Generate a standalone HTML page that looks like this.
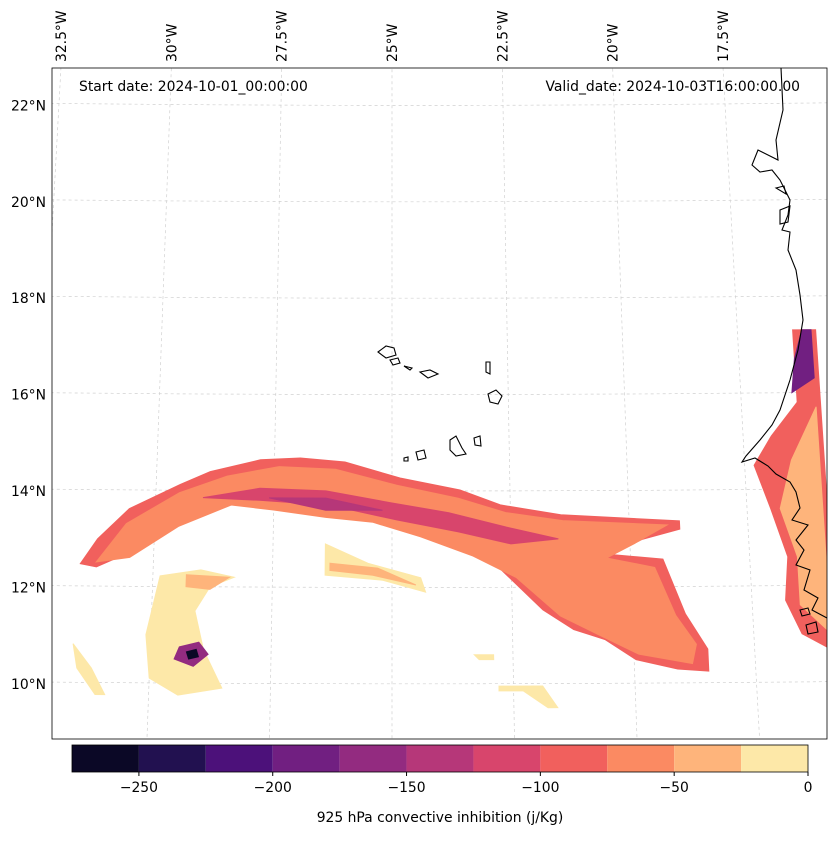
<!DOCTYPE html>
<html><head><meta charset="utf-8"><style>
html,body{margin:0;padding:0;background:#fff;}
svg text{font-family:"DejaVu Sans","Liberation Sans",sans-serif;fill:#000;}
</style></head><body>
<svg id="chart" width="837" height="836" viewBox="0 0 837 836" xmlns="http://www.w3.org/2000/svg">
<rect x="0" y="0" width="837" height="836" fill="#fff"/>
<defs><clipPath id="mapclip"><rect x="52" y="68" width="775" height="671"/></clipPath></defs>
<g id="grid" clip-path="url(#mapclip)"></g>
<g id="fields" clip-path="url(#mapclip)"></g>
<g id="coast" clip-path="url(#mapclip)" fill="none" stroke="#000" stroke-width="1.1">
  <path d="M781,68 L783,110 L776,140 L778,160 L768,155 L758,150 L752,165 L760,172 L772,170 L780,180 L790,200 L788,215 L782,230 L790,232 L788,250 L796,270 L800,295 L803,320 L798,350 L790,380 L780,410 L772,425 L760,440 L746,456 L742,462 L755,458 L768,466 L776,474 L790,482 L796,492 L800,508 L792,520 L808,525 L796,540 L804,550 L796,565 L810,570 L804,590 L818,598 L812,610 L827,618"/>
  <path d="M378,352 L386,346 L394,348 L396,355 L386,358 Z"/>
  <path d="M390,360 L398,358 L400,363 L393,365 Z"/>
  <path d="M404,366 L412,368 L410,370 Z"/>
  <path d="M486,362 L490,362 L490,374 L486,372 Z"/>
  <path d="M488,394 L496,390 L502,396 L498,404 L490,402 Z"/>
  <path d="M474,438 L480,436 L481,446 L475,445 Z"/>
  <path d="M450,440 L456,436 L462,448 L466,454 L456,456 L450,450 Z"/>
  <path d="M416,452 L424,450 L426,458 L418,460 Z"/>
  <path d="M404,458 L408,457 L408,461 L404,461 Z"/>
  <path d="M420,372 L430,370 L438,374 L428,378 Z"/>
  <path d="M800,610 L808,608 L810,614 L802,616 Z M806,625 L816,622 L818,632 L808,634 Z"/>
  <path d="M776,188 L784,186 L786,194 Z M780,210 L790,206 L788,222 L780,224 Z"/>
</g>
<rect x="52" y="68" width="775" height="671" fill="none" stroke="#000" stroke-width="0.8"/>
<g id="labels"></g>
<text x="79" y="91" font-size="13.9">Start date: 2024-10-01_00:00:00</text>
<text x="800" y="91" font-size="13.9" text-anchor="end">Valid_date: 2024-10-03T16:00:00.00</text>
<g id="cbar"></g>
<text x="440" y="822" font-size="13.9" text-anchor="middle">925 hPa convective inhibition (j/Kg)</text>
</svg>
<script>
// ---- data ----
const levels = [-275,-250,-225,-200,-175,-150,-125,-100,-75,-50,-25,0];
const colors = ["#0b0826","#221150","#4c117a","#711f81","#932b80","#b63779","#d8456c","#f1605d","#fb8a62","#feb47b","#fde8a8"];
const cbarTicks = [-250,-200,-150,-100,-50,0];
const latTicks = [10,12,14,16,18,20,22];
const lonTicks = [-32.5,-30,-27.5,-25,-22.5,-20,-17.5];
const bandOuter = [[-31.53,12.46],[-31.19,12.98],[-30.55,13.61],[-29.49,14.12],[-28.86,14.39],[-27.8,14.64],[-26.95,14.68],[-26.0,14.6],[-24.83,14.27],[-23.56,14.02],[-22.71,13.71],[-21.44,13.5],[-18.94,13.36],[-18.94,13.19],[-19.75,12.98],[-20.38,12.67],[-19.32,12.57],[-18.9,11.43],[-18.47,10.7],[-18.47,10.24],[-19.11,10.29],[-19.96,10.49],[-20.59,10.91],[-21.23,11.12],[-21.86,11.53],[-22.71,12.36],[-23.35,12.78],[-24.41,13.19],[-25.25,13.5],[-26.31,13.56],[-27.37,13.71],[-28.22,13.81],[-29.49,13.4],[-30.34,12.78],[-31.19,12.4]];
const bandMid = [[-31.2,12.5],[-30.6,13.3],[-29.5,13.95],[-28.5,14.3],[-27.4,14.5],[-26.2,14.45],[-24.9,14.12],[-23.6,13.85],[-22.6,13.55],[-21.4,13.38],[-19.2,13.28],[-19.9,12.9],[-20.5,12.6],[-19.5,12.4],[-19.1,11.4],[-18.7,10.8],[-18.8,10.4],[-19.9,10.6],[-20.7,11.0],[-21.5,11.4],[-22.4,12.2],[-23.3,12.65],[-24.4,13.05],[-25.4,13.35],[-26.4,13.45],[-27.5,13.6],[-28.4,13.7],[-29.5,13.25],[-30.5,12.6]];
const bandInner = [[-29.0,13.85],[-27.8,14.05],[-26.4,14.0],[-25.0,13.75],[-23.8,13.55],[-22.6,13.25],[-21.5,13.0],[-22.5,12.9],[-23.6,13.15],[-24.9,13.4],[-26.3,13.7],[-27.8,13.8]];
const bandCore = [[-27.6,13.85],[-26.4,13.85],[-25.2,13.6],[-26.4,13.6]];
const blobWest = [[-29.85,12.22],[-29.0,12.35],[-28.3,12.2],[-28.8,12.0],[-29.1,11.5],[-28.9,10.7],[-28.5,9.9],[-29.4,9.75],[-30.0,10.1],[-30.1,11.0]];
const blobWestPeach = [[-29.3,12.25],[-28.4,12.2],[-28.8,11.95],[-29.3,12.0]];
const spotRing = [[-29.4,10.75],[-29.0,10.85],[-28.8,10.6],[-29.1,10.35],[-29.5,10.5]];
const spotCore = [[-29.25,10.65],[-29.05,10.7],[-29.0,10.55],[-29.2,10.5]];
const blobMid = [[-26.4,12.9],[-25.5,12.5],[-24.4,12.2],[-24.3,11.9],[-25.2,12.15],[-26.4,12.25]];
const blobMidPeach = [[-26.3,12.5],[-25.3,12.4],[-24.5,12.05],[-25.4,12.25],[-26.3,12.35]];
const blobSW = [[-31.6,10.8],[-31.2,10.3],[-30.9,9.75],[-31.1,9.75],[-31.5,10.3]];
const blobS1 = [[-22.8,9.95],[-21.9,9.95],[-21.6,9.5],[-21.8,9.5],[-22.3,9.85],[-22.8,9.85]];
const blobS2 = [[-23.3,10.6],[-22.9,10.6],[-22.9,10.5],[-23.2,10.5]];
const blobEdge = [[-32.6,14.0],[-32.5,13.2],[-32.6,13.2]];
const coastStrip = [[-16.3,17.3],[-15.8,17.3],[-15.8,10.6],[-16.5,11.0],[-16.8,11.7],[-16.7,12.6],[-17.0,13.6],[-17.3,14.5],[-16.9,15.1],[-16.3,15.8]];
const coastPeach = [[-15.9,15.7],[-15.9,11.0],[-16.5,11.6],[-16.5,12.6],[-16.8,13.6],[-16.5,14.6]];
const coastPurple = [[-16.1,17.3],[-15.9,17.3],[-15.9,16.3],[-16.4,16.0],[-16.3,16.7]];
const regions = [
 {bin:7, poly:bandOuter},{bin:8, poly:bandMid},{bin:6, poly:bandInner},{bin:5, poly:bandCore},
 {bin:10, poly:blobWest},{bin:9, poly:blobWestPeach},{bin:4, poly:spotRing},{bin:0, poly:spotCore},
 {bin:10, poly:blobMid},{bin:9, poly:blobMidPeach},{bin:10, poly:blobSW},{bin:10, poly:blobS1},
 {bin:10, poly:blobS2},{bin:10, poly:blobEdge},{bin:7, poly:coastStrip},{bin:9, poly:coastPeach},{bin:3, poly:coastPurple}
];
// ---- axes ----
const NS="http://www.w3.org/2000/svg";
function xOf(lon,lat){return 392+(lon+25)*(47.2-(lat-14)*0.35);}
function yOf(lon,lat){return 491-(lat-14)*48.2-Math.pow((lon+24.5),2)*0.03;}
function cbX(v){return 808+(v)*(736/275);}
function mk(tag,attrs,parent){const e=document.createElementNS(NS,tag);for(const k in attrs)e.setAttribute(k,attrs[k]);parent.appendChild(e);return e;}
const grid=document.getElementById('grid'),fields=document.getElementById('fields'),labels=document.getElementById('labels'),cbar=document.getElementById('cbar');
latTicks.forEach(lat=>{
  let d="";for(let lon=-33.5;lon<=-15;lon+=0.5){d+=(d?"L":"M")+xOf(lon,lat).toFixed(1)+","+yOf(lon,lat).toFixed(1);}
  const p=mk('path',{d:d,fill:'none',stroke:'#d0d0d0','stroke-width':0.7,'stroke-dasharray':'3,3'},grid);
  
  
  const t=mk('text',{x:46,y:491-(lat-14)*48.2+5,'font-size':13.9,'text-anchor':'end'},labels);
  t.textContent=lat+"°N";
  
  
});
lonTicks.forEach(lon=>{
  const x1=xOf(lon,23),y1=yOf(lon,23),x2=xOf(lon,8.5),y2=yOf(lon,8.5);
  const p=mk('line',{x1:x1,y1:y1,x2:x2,y2:y2,stroke:'#d0d0d0','stroke-width':0.7,'stroke-dasharray':'3,3'},grid);
  
  
  const tx=xOf(lon,22.8)+5;
  const t=mk('text',{x:tx,y:62,'font-size':13.9,transform:`rotate(-90 ${tx} 62)`},labels);
  t.textContent=Math.abs(lon)+"°W";
  
  
});
regions.forEach((r,i)=>{
  const pts=r.poly.map(p=>xOf(p[0],p[1]).toFixed(1)+","+yOf(p[0],p[1]).toFixed(1)).join(" ");
  const e=mk('polygon',{points:pts,fill:colors[r.bin],stroke:colors[r.bin],'stroke-width':1},fields);
  
  
});
colors.forEach((c,i)=>{
  const x=cbX(levels[i]),w=cbX(levels[i+1])-x;
  const e=mk('rect',{x:x,y:745,width:w,height:27,fill:c},cbar);
  
  
});
const fr=mk('rect',{x:cbX(-275),y:745,width:cbX(0)-cbX(-275),height:27,fill:'none',stroke:'#000','stroke-width':0.8},cbar);


cbarTicks.forEach(v=>{
  const l=mk('line',{x1:cbX(v),x2:cbX(v),y1:772,y2:776,stroke:'#000'},cbar);
  
  
  const t=mk('text',{x:cbX(v),y:792,'font-size':13.9,'text-anchor':'middle'},cbar);
  t.textContent=v<0?"\u2212"+Math.abs(v):String(v);
  
  
});
</script>
</body></html>
